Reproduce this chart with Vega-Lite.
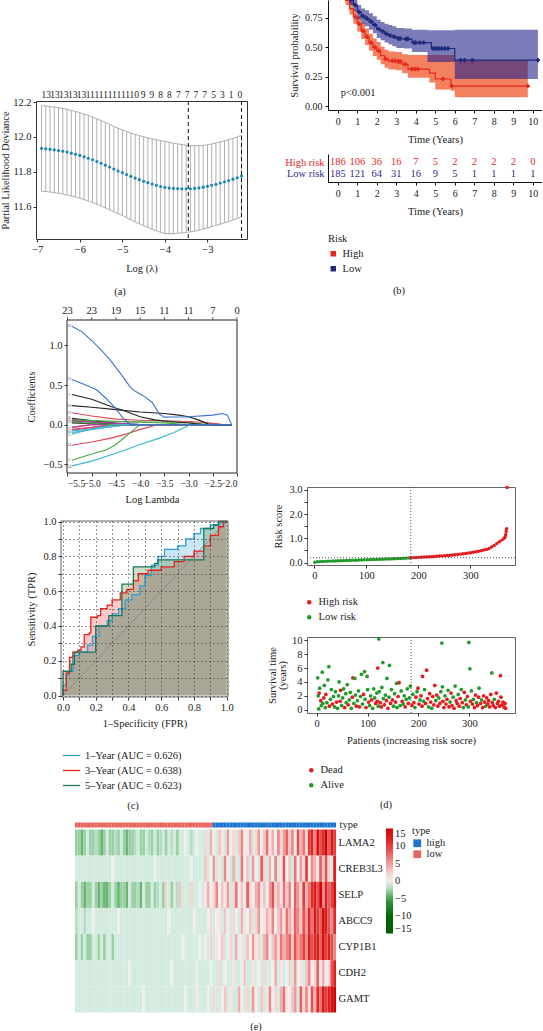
{
"$schema":"https://vega.github.io/schema/vega-lite/v6.json",
"padding":0,"background":"white","spacing":7.5,
"resolve":{"scale":{"color":"independent","stroke":"independent","fill":"independent"}},
"datasets":{
"cv":[{"loglam":-6.9,"mean":11.934,"lo":11.689,"hi":12.179},{"loglam":-6.8,"mean":11.932,"lo":11.687,"hi":12.177},{"loglam":-6.7,"mean":11.929,"lo":11.684,"hi":12.174},{"loglam":-6.6,"mean":11.926,"lo":11.681,"hi":12.171},{"loglam":-6.5,"mean":11.922,"lo":11.677,"hi":12.167},{"loglam":-6.4,"mean":11.918,"lo":11.673,"hi":12.163},{"loglam":-6.3,"mean":11.913,"lo":11.668,"hi":12.158},{"loglam":-6.2,"mean":11.907,"lo":11.662,"hi":12.152},{"loglam":-6.1,"mean":11.901,"lo":11.656,"hi":12.146},{"loglam":-6.0,"mean":11.894,"lo":11.649,"hi":12.139},{"loglam":-5.9,"mean":11.886,"lo":11.641,"hi":12.131},{"loglam":-5.8,"mean":11.878,"lo":11.633,"hi":12.123},{"loglam":-5.7,"mean":11.869,"lo":11.624,"hi":12.114},{"loglam":-5.6,"mean":11.859,"lo":11.614,"hi":12.104},{"loglam":-5.5,"mean":11.849,"lo":11.604,"hi":12.094},{"loglam":-5.4,"mean":11.838,"lo":11.593,"hi":12.083},{"loglam":-5.3,"mean":11.827,"lo":11.582,"hi":12.072},{"loglam":-5.2,"mean":11.816,"lo":11.571,"hi":12.061},{"loglam":-5.1,"mean":11.805,"lo":11.56,"hi":12.05},{"loglam":-5.0,"mean":11.795,"lo":11.55,"hi":12.04},{"loglam":-4.9,"mean":11.784,"lo":11.537,"hi":12.031},{"loglam":-4.8,"mean":11.774,"lo":11.525,"hi":12.023},{"loglam":-4.7,"mean":11.764,"lo":11.513,"hi":12.015},{"loglam":-4.6,"mean":11.755,"lo":11.502,"hi":12.008},{"loglam":-4.5,"mean":11.746,"lo":11.491,"hi":12.001},{"loglam":-4.4,"mean":11.738,"lo":11.481,"hi":11.995},{"loglam":-4.3,"mean":11.73,"lo":11.471,"hi":11.989},{"loglam":-4.2,"mean":11.723,"lo":11.462,"hi":11.984},{"loglam":-4.1,"mean":11.716,"lo":11.453,"hi":11.979},{"loglam":-4.0,"mean":11.711,"lo":11.446,"hi":11.976},{"loglam":-3.9,"mean":11.707,"lo":11.445,"hi":11.969},{"loglam":-3.8,"mean":11.705,"lo":11.446,"hi":11.964},{"loglam":-3.7,"mean":11.704,"lo":11.448,"hi":11.96},{"loglam":-3.6,"mean":11.703,"lo":11.45,"hi":11.956},{"loglam":-3.5,"mean":11.703,"lo":11.453,"hi":11.953},{"loglam":-3.4,"mean":11.703,"lo":11.456,"hi":11.95},{"loglam":-3.3,"mean":11.705,"lo":11.46,"hi":11.95},{"loglam":-3.2,"mean":11.708,"lo":11.465,"hi":11.951},{"loglam":-3.1,"mean":11.712,"lo":11.472,"hi":11.952},{"loglam":-3.0,"mean":11.717,"lo":11.479,"hi":11.955},{"loglam":-2.9,"mean":11.723,"lo":11.486,"hi":11.96},{"loglam":-2.8,"mean":11.729,"lo":11.493,"hi":11.965},{"loglam":-2.7,"mean":11.736,"lo":11.5,"hi":11.972},{"loglam":-2.6,"mean":11.743,"lo":11.508,"hi":11.978},{"loglam":-2.5,"mean":11.75,"lo":11.515,"hi":11.985},{"loglam":-2.4,"mean":11.758,"lo":11.524,"hi":11.992},{"loglam":-2.3,"mean":11.766,"lo":11.532,"hi":12.0},{"loglam":-2.2,"mean":11.776,"lo":11.542,"hi":12.01}],
"nz":[{"loglam":-6.79,"n":"13"},{"loglam":-6.583,"n":"13"},{"loglam":-6.376,"n":"13"},{"loglam":-6.169,"n":"13"},{"loglam":-5.962,"n":"13"},{"loglam":-5.755,"n":"11"},{"loglam":-5.548,"n":"11"},{"loglam":-5.341,"n":"11"},{"loglam":-5.134,"n":"11"},{"loglam":-4.927,"n":"11"},{"loglam":-4.72,"n":"10"},{"loglam":-4.513,"n":"9"},{"loglam":-4.306,"n":"9"},{"loglam":-4.099,"n":"8"},{"loglam":-3.892,"n":"8"},{"loglam":-3.685,"n":"7"},{"loglam":-3.478,"n":"7"},{"loglam":-3.271,"n":"7"},{"loglam":-3.064,"n":"7"},{"loglam":-2.857,"n":"5"},{"loglam":-2.65,"n":"3"},{"loglam":-2.443,"n":"1"},{"loglam":-2.236,"n":"0"}],
"ctop":[{"lam":-5.5,"n":"23"},{"lam":-5.0,"n":"23"},{"lam":-4.5,"n":"19"},{"lam":-4.0,"n":"15"},{"lam":-3.5,"n":"11"},{"lam":-3.0,"n":"11"},{"lam":-2.5,"n":"7"},{"lam":-2.0,"n":"0"}],
"coef":[
{"var":"2","lam":-5.41,"coef":0.07},{"var":"2","lam":-4.6,"coef":0},{"var":"2","lam":-2.11,"coef":0},
{"var":"4","lam":-5.41,"coef":0.05},{"var":"4","lam":-4.0,"coef":0},{"var":"4","lam":-2.11,"coef":0},
{"var":"6","lam":-5.41,"coef":-0.07},{"var":"6","lam":-4.6,"coef":0},{"var":"6","lam":-2.11,"coef":0},
{"var":"7","lam":-5.41,"coef":0.04},{"var":"7","lam":-3.0,"coef":0.03},{"var":"7","lam":-2.6,"coef":0},{"var":"7","lam":-2.11,"coef":0},
{"var":"8","lam":-5.41,"coef":0.08},{"var":"8","lam":-4.3,"coef":0},{"var":"8","lam":-2.11,"coef":0},
{"var":"9","lam":-5.41,"coef":0.03},{"var":"9","lam":-4.8,"coef":0},{"var":"9","lam":-2.11,"coef":0},
{"var":"10","lam":-5.41,"coef":-0.1},{"var":"10","lam":-4.3,"coef":0},{"var":"10","lam":-2.11,"coef":0},
{"var":"11","lam":-5.41,"coef":-0.04},{"var":"11","lam":-5.0,"coef":0},{"var":"11","lam":-2.11,"coef":0},
{"var":"12","lam":-5.41,"coef":0.06},{"var":"12","lam":-3.5,"coef":0.02},{"var":"12","lam":-3.0,"coef":0},{"var":"12","lam":-2.11,"coef":0},
{"var":"13","lam":-5.41,"coef":-0.03},{"var":"13","lam":-5.0,"coef":0},{"var":"13","lam":-2.11,"coef":0},
{"var":"15","lam":-5.41,"coef":0.02},{"var":"15","lam":-4.0,"coef":0},{"var":"15","lam":-2.11,"coef":0},
{"var":"17","lam":-5.41,"coef":-0.08},{"var":"17","lam":-4.5,"coef":-0.02},{"var":"17","lam":-4.2,"coef":0},{"var":"17","lam":-2.11,"coef":0},
{"var":"18","lam":-5.41,"coef":0.03},{"var":"18","lam":-4.5,"coef":0},{"var":"18","lam":-2.11,"coef":0},
{"var":"19","lam":-5.41,"coef":0.05},{"var":"19","lam":-4.0,"coef":0},{"var":"19","lam":-2.11,"coef":0},
{"var":"21","lam":-5.41,"coef":-0.06},{"var":"21","lam":-4.4,"coef":0},{"var":"21","lam":-2.11,"coef":0},
{"var":"5","lam":-5.41,"coef":-0.12},{"var":"5","lam":-5.1,"coef":-0.07},{"var":"5","lam":-4.8,"coef":-0.03},{"var":"5","lam":-4.5,"coef":0},{"var":"5","lam":-2.11,"coef":0},
{"var":"22","lam":-5.41,"coef":0.15},{"var":"22","lam":-5.0,"coef":0.11},{"var":"22","lam":-4.5,"coef":0.07},{"var":"22","lam":-4.0,"coef":0.055},{"var":"22","lam":-3.5,"coef":0.05},{"var":"22","lam":-3.0,"coef":0.04},{"var":"22","lam":-2.7,"coef":0.03},{"var":"22","lam":-2.4,"coef":0.01},{"var":"22","lam":-2.3,"coef":0},{"var":"22","lam":-2.11,"coef":0},
{"var":"14","lam":-5.41,"coef":-0.26},{"var":"14","lam":-5.0,"coef":-0.22},{"var":"14","lam":-4.6,"coef":-0.17},{"var":"14","lam":-4.3,"coef":-0.12},{"var":"14","lam":-4.0,"coef":-0.06},{"var":"14","lam":-3.7,"coef":-0.01},{"var":"14","lam":-3.6,"coef":0},{"var":"14","lam":-2.11,"coef":0},
{"var":"3","lam":-5.41,"coef":-0.45},{"var":"3","lam":-5.0,"coef":-0.37},{"var":"3","lam":-4.7,"coef":-0.32},{"var":"3","lam":-4.5,"coef":-0.25},{"var":"3","lam":-4.3,"coef":-0.15},{"var":"3","lam":-4.1,"coef":-0.05},{"var":"3","lam":-4.0,"coef":0},{"var":"3","lam":-2.11,"coef":0},
{"var":"24","lam":-5.41,"coef":-0.52},{"var":"24","lam":-5.0,"coef":-0.46},{"var":"24","lam":-4.5,"coef":-0.36},{"var":"24","lam":-4.0,"coef":-0.25},{"var":"24","lam":-3.6,"coef":-0.17},{"var":"24","lam":-3.3,"coef":-0.1},{"var":"24","lam":-3.1,"coef":-0.04},{"var":"24","lam":-2.95,"coef":0},{"var":"24","lam":-2.11,"coef":0},
{"var":"1","lam":-5.41,"coef":0.38},{"var":"1","lam":-5.0,"coef":0.32},{"var":"1","lam":-4.6,"coef":0.23},{"var":"1","lam":-4.3,"coef":0.17},{"var":"1","lam":-4.0,"coef":0.1},{"var":"1","lam":-3.7,"coef":0.06},{"var":"1","lam":-3.4,"coef":0.04},{"var":"1","lam":-3.0,"coef":0.02},{"var":"1","lam":-2.7,"coef":0},{"var":"1","lam":-2.11,"coef":0},
{"var":"20","lam":-5.41,"coef":0.24},{"var":"20","lam":-5.0,"coef":0.22},{"var":"20","lam":-4.5,"coef":0.19},{"var":"20","lam":-4.0,"coef":0.16},{"var":"20","lam":-3.5,"coef":0.14},{"var":"20","lam":-3.2,"coef":0.12},{"var":"20","lam":-3.0,"coef":0.1},{"var":"20","lam":-2.8,"coef":0.06},{"var":"20","lam":-2.6,"coef":0.01},{"var":"20","lam":-2.5,"coef":0},{"var":"20","lam":-2.11,"coef":0},
{"var":"23","lam":-5.41,"coef":0.57},{"var":"23","lam":-5.2,"coef":0.52},{"var":"23","lam":-5.0,"coef":0.47},{"var":"23","lam":-4.9,"coef":0.44},{"var":"23","lam":-4.7,"coef":0.33},{"var":"23","lam":-4.5,"coef":0.2},{"var":"23","lam":-4.35,"coef":0.08},{"var":"23","lam":-4.2,"coef":0},{"var":"23","lam":-2.11,"coef":0},
{"var":"16","lam":-5.41,"coef":1.24},{"var":"16","lam":-5.2,"coef":1.17},{"var":"16","lam":-5.0,"coef":1.06},{"var":"16","lam":-4.8,"coef":0.94},{"var":"16","lam":-4.6,"coef":0.8},{"var":"16","lam":-4.4,"coef":0.64},{"var":"16","lam":-4.2,"coef":0.47},{"var":"16","lam":-4.1,"coef":0.42},{"var":"16","lam":-3.9,"coef":0.35},{"var":"16","lam":-3.75,"coef":0.28},{"var":"16","lam":-3.6,"coef":0.13},{"var":"16","lam":-3.5,"coef":0.095},{"var":"16","lam":-3.0,"coef":0.1},{"var":"16","lam":-2.5,"coef":0.12},{"var":"16","lam":-2.3,"coef":0.14},{"var":"16","lam":-2.2,"coef":0.12},{"var":"16","lam":-2.11,"coef":0}],
"coeflab":[{"var":"16","coef":1.24},{"var":"23","coef":0.57},{"var":"1","coef":0.38},{"var":"20","coef":0.24},{"var":"22","coef":0.15},{"var":"8","coef":0.08},{"var":"2","coef":0.055},{"var":"12","coef":0.03},{"var":"6","coef":-0.05},{"var":"10","coef":-0.09},{"var":"5","coef":-0.13},{"var":"14","coef":-0.26},{"var":"3","coef":-0.45},{"var":"24","coef":-0.53}],
"roc":[
{"curve":"1–Year (AUC = 0.626)","fpr":0,"tpr":0},{"curve":"1–Year (AUC = 0.626)","fpr":0,"tpr":0.06},{"curve":"1–Year (AUC = 0.626)","fpr":0.02,"tpr":0.12},{"curve":"1–Year (AUC = 0.626)","fpr":0.04,"tpr":0.14},{"curve":"1–Year (AUC = 0.626)","fpr":0.06,"tpr":0.23},{"curve":"1–Year (AUC = 0.626)","fpr":0.1,"tpr":0.25},{"curve":"1–Year (AUC = 0.626)","fpr":0.15,"tpr":0.29},{"curve":"1–Year (AUC = 0.626)","fpr":0.18,"tpr":0.34},{"curve":"1–Year (AUC = 0.626)","fpr":0.22,"tpr":0.4},{"curve":"1–Year (AUC = 0.626)","fpr":0.27,"tpr":0.43},{"curve":"1–Year (AUC = 0.626)","fpr":0.3,"tpr":0.47},{"curve":"1–Year (AUC = 0.626)","fpr":0.34,"tpr":0.5},{"curve":"1–Year (AUC = 0.626)","fpr":0.38,"tpr":0.55},{"curve":"1–Year (AUC = 0.626)","fpr":0.42,"tpr":0.58},{"curve":"1–Year (AUC = 0.626)","fpr":0.47,"tpr":0.63},{"curve":"1–Year (AUC = 0.626)","fpr":0.5,"tpr":0.69},{"curve":"1–Year (AUC = 0.626)","fpr":0.54,"tpr":0.75},{"curve":"1–Year (AUC = 0.626)","fpr":0.58,"tpr":0.8},{"curve":"1–Year (AUC = 0.626)","fpr":0.62,"tpr":0.84},{"curve":"1–Year (AUC = 0.626)","fpr":0.7,"tpr":0.86},{"curve":"1–Year (AUC = 0.626)","fpr":0.75,"tpr":0.9},{"curve":"1–Year (AUC = 0.626)","fpr":0.8,"tpr":0.93},{"curve":"1–Year (AUC = 0.626)","fpr":0.84,"tpr":0.96},{"curve":"1–Year (AUC = 0.626)","fpr":0.9,"tpr":0.98},{"curve":"1–Year (AUC = 0.626)","fpr":0.96,"tpr":1},{"curve":"1–Year (AUC = 0.626)","fpr":1,"tpr":1},
{"curve":"3–Year (AUC = 0.638)","fpr":0,"tpr":0},{"curve":"3–Year (AUC = 0.638)","fpr":0,"tpr":0.03},{"curve":"3–Year (AUC = 0.638)","fpr":0.02,"tpr":0.13},{"curve":"3–Year (AUC = 0.638)","fpr":0.04,"tpr":0.22},{"curve":"3–Year (AUC = 0.638)","fpr":0.06,"tpr":0.25},{"curve":"3–Year (AUC = 0.638)","fpr":0.09,"tpr":0.26},{"curve":"3–Year (AUC = 0.638)","fpr":0.11,"tpr":0.28},{"curve":"3–Year (AUC = 0.638)","fpr":0.13,"tpr":0.35},{"curve":"3–Year (AUC = 0.638)","fpr":0.16,"tpr":0.36},{"curve":"3–Year (AUC = 0.638)","fpr":0.17,"tpr":0.45},{"curve":"3–Year (AUC = 0.638)","fpr":0.21,"tpr":0.46},{"curve":"3–Year (AUC = 0.638)","fpr":0.23,"tpr":0.5},{"curve":"3–Year (AUC = 0.638)","fpr":0.27,"tpr":0.52},{"curve":"3–Year (AUC = 0.638)","fpr":0.3,"tpr":0.55},{"curve":"3–Year (AUC = 0.638)","fpr":0.35,"tpr":0.59},{"curve":"3–Year (AUC = 0.638)","fpr":0.39,"tpr":0.61},{"curve":"3–Year (AUC = 0.638)","fpr":0.43,"tpr":0.66},{"curve":"3–Year (AUC = 0.638)","fpr":0.46,"tpr":0.7},{"curve":"3–Year (AUC = 0.638)","fpr":0.52,"tpr":0.72},{"curve":"3–Year (AUC = 0.638)","fpr":0.6,"tpr":0.74},{"curve":"3–Year (AUC = 0.638)","fpr":0.68,"tpr":0.77},{"curve":"3–Year (AUC = 0.638)","fpr":0.74,"tpr":0.8},{"curve":"3–Year (AUC = 0.638)","fpr":0.8,"tpr":0.83},{"curve":"3–Year (AUC = 0.638)","fpr":0.86,"tpr":0.86},{"curve":"3–Year (AUC = 0.638)","fpr":0.9,"tpr":0.92},{"curve":"3–Year (AUC = 0.638)","fpr":0.95,"tpr":0.97},{"curve":"3–Year (AUC = 0.638)","fpr":0.98,"tpr":1},{"curve":"3–Year (AUC = 0.638)","fpr":1,"tpr":1},
{"curve":"5–Year (AUC = 0.623)","fpr":0,"tpr":0},{"curve":"5–Year (AUC = 0.623)","fpr":0,"tpr":0.14},{"curve":"5–Year (AUC = 0.623)","fpr":0.05,"tpr":0.18},{"curve":"5–Year (AUC = 0.623)","fpr":0.07,"tpr":0.25},{"curve":"5–Year (AUC = 0.623)","fpr":0.2,"tpr":0.4},{"curve":"5–Year (AUC = 0.623)","fpr":0.28,"tpr":0.46},{"curve":"5–Year (AUC = 0.623)","fpr":0.36,"tpr":0.64},{"curve":"5–Year (AUC = 0.623)","fpr":0.43,"tpr":0.74},{"curve":"5–Year (AUC = 0.623)","fpr":0.56,"tpr":0.76},{"curve":"5–Year (AUC = 0.623)","fpr":0.58,"tpr":0.78},{"curve":"5–Year (AUC = 0.623)","fpr":0.86,"tpr":0.96},{"curve":"5–Year (AUC = 0.623)","fpr":0.92,"tpr":0.98},{"curve":"5–Year (AUC = 0.623)","fpr":0.95,"tpr":1},{"curve":"5–Year (AUC = 0.623)","fpr":1,"tpr":1}],
"km":[
{"risk":"High","t":0,"s":1,"lo":1,"hi":1},{"risk":"High","t":0.2,"s":0.96,"lo":0.93,"hi":0.99},{"risk":"High","t":0.4,"s":0.9,"lo":0.86,"hi":0.94},{"risk":"High","t":0.6,"s":0.83,"lo":0.78,"hi":0.88},{"risk":"High","t":0.8,"s":0.76,"lo":0.7,"hi":0.82},{"risk":"High","t":1.0,"s":0.7,"lo":0.635,"hi":0.765},{"risk":"High","t":1.2,"s":0.64,"lo":0.57,"hi":0.71},{"risk":"High","t":1.4,"s":0.59,"lo":0.52,"hi":0.66},{"risk":"High","t":1.6,"s":0.54,"lo":0.47,"hi":0.615},{"risk":"High","t":1.8,"s":0.5,"lo":0.425,"hi":0.575},{"risk":"High","t":2.0,"s":0.47,"lo":0.395,"hi":0.545},{"risk":"High","t":2.2,"s":0.43,"lo":0.355,"hi":0.505},{"risk":"High","t":2.4,"s":0.4,"lo":0.325,"hi":0.48},{"risk":"High","t":2.6,"s":0.385,"lo":0.31,"hi":0.465},{"risk":"High","t":3.0,"s":0.38,"lo":0.305,"hi":0.46},{"risk":"High","t":3.3,"s":0.355,"lo":0.28,"hi":0.44},{"risk":"High","t":3.6,"s":0.315,"lo":0.24,"hi":0.435},{"risk":"High","t":4.7,"s":0.28,"lo":0.2,"hi":0.435},{"risk":"High","t":5.0,"s":0.23,"lo":0.14,"hi":0.435},{"risk":"High","t":5.8,"s":0.17,"lo":0.13,"hi":0.435},{"risk":"High","t":6.0,"s":0.17,"lo":0.075,"hi":0.39},{"risk":"High","t":9.74,"s":0.17,"lo":0.075,"hi":0.39},
{"risk":"Low","t":0,"s":1,"lo":1,"hi":1},{"risk":"Low","t":0.2,"s":0.975,"lo":0.955,"hi":0.995},{"risk":"Low","t":0.4,"s":0.94,"lo":0.91,"hi":0.97},{"risk":"Low","t":0.6,"s":0.9,"lo":0.86,"hi":0.94},{"risk":"Low","t":0.8,"s":0.86,"lo":0.81,"hi":0.91},{"risk":"Low","t":1.0,"s":0.8,"lo":0.74,"hi":0.86},{"risk":"Low","t":1.2,"s":0.765,"lo":0.7,"hi":0.83},{"risk":"Low","t":1.4,"s":0.745,"lo":0.68,"hi":0.815},{"risk":"Low","t":1.6,"s":0.72,"lo":0.65,"hi":0.79},{"risk":"Low","t":1.8,"s":0.69,"lo":0.62,"hi":0.765},{"risk":"Low","t":2.0,"s":0.655,"lo":0.58,"hi":0.735},{"risk":"Low","t":2.2,"s":0.635,"lo":0.56,"hi":0.715},{"risk":"Low","t":2.4,"s":0.615,"lo":0.54,"hi":0.7},{"risk":"Low","t":2.6,"s":0.6,"lo":0.525,"hi":0.69},{"risk":"Low","t":2.8,"s":0.59,"lo":0.51,"hi":0.68},{"risk":"Low","t":3.0,"s":0.575,"lo":0.495,"hi":0.665},{"risk":"Low","t":3.4,"s":0.57,"lo":0.49,"hi":0.66},{"risk":"Low","t":3.8,"s":0.54,"lo":0.46,"hi":0.65},{"risk":"Low","t":4.6,"s":0.54,"lo":0.375,"hi":0.645},{"risk":"Low","t":4.8,"s":0.49,"lo":0.375,"hi":0.645},{"risk":"Low","t":6.0,"s":0.39,"lo":0.23,"hi":0.65},{"risk":"Low","t":10.26,"s":0.39,"lo":0.23,"hi":0.65}],
"cens":[
{"risk":"Low","t":0.3,"s":0.975},{"risk":"Low","t":0.5,"s":0.94},{"risk":"Low","t":0.7,"s":0.9},{"risk":"Low","t":0.9,"s":0.86},{"risk":"Low","t":1.1,"s":0.8},{"risk":"Low","t":1.3,"s":0.765},{"risk":"Low","t":1.5,"s":0.745},{"risk":"Low","t":1.7,"s":0.72},{"risk":"Low","t":1.9,"s":0.69},{"risk":"Low","t":2.1,"s":0.655},{"risk":"Low","t":2.3,"s":0.635},{"risk":"Low","t":2.5,"s":0.615},{"risk":"Low","t":2.7,"s":0.6},{"risk":"Low","t":2.9,"s":0.59},{"risk":"Low","t":3.1,"s":0.575},{"risk":"Low","t":3.2,"s":0.575},{"risk":"Low","t":3.5,"s":0.57},{"risk":"Low","t":3.6,"s":0.57},{"risk":"Low","t":3.9,"s":0.54},{"risk":"Low","t":4.0,"s":0.54},{"risk":"Low","t":4.2,"s":0.54},{"risk":"Low","t":4.4,"s":0.54},{"risk":"Low","t":4.9,"s":0.49},{"risk":"Low","t":5.05,"s":0.49},{"risk":"Low","t":5.2,"s":0.49},{"risk":"Low","t":5.35,"s":0.49},{"risk":"Low","t":5.5,"s":0.49},{"risk":"Low","t":5.65,"s":0.49},{"risk":"Low","t":6.3,"s":0.39},{"risk":"Low","t":6.5,"s":0.39},{"risk":"Low","t":6.9,"s":0.39},{"risk":"Low","t":10.26,"s":0.39},
{"risk":"High","t":0.9,"s":0.76},{"risk":"High","t":1.1,"s":0.7},{"risk":"High","t":1.3,"s":0.64},{"risk":"High","t":1.5,"s":0.59},{"risk":"High","t":1.7,"s":0.54},{"risk":"High","t":1.9,"s":0.5},{"risk":"High","t":2.1,"s":0.47},{"risk":"High","t":2.45,"s":0.4},{"risk":"High","t":2.8,"s":0.385},{"risk":"High","t":2.95,"s":0.385},{"risk":"High","t":3.1,"s":0.38},{"risk":"High","t":3.2,"s":0.38},{"risk":"High","t":3.45,"s":0.355},{"risk":"High","t":3.8,"s":0.315},{"risk":"High","t":3.95,"s":0.315},{"risk":"High","t":4.1,"s":0.315},{"risk":"High","t":5.4,"s":0.23},{"risk":"High","t":5.85,"s":0.17},{"risk":"High","t":9.74,"s":0.17}],
"risktab":[{"risk":"High risk","t":0,"n":"186"},{"risk":"High risk","t":1,"n":"106"},{"risk":"High risk","t":2,"n":"36"},{"risk":"High risk","t":3,"n":"16"},{"risk":"High risk","t":4,"n":"7"},{"risk":"High risk","t":5,"n":"5"},{"risk":"High risk","t":6,"n":"2"},{"risk":"High risk","t":7,"n":"2"},{"risk":"High risk","t":8,"n":"2"},{"risk":"High risk","t":9,"n":"2"},{"risk":"High risk","t":10,"n":"0"},{"risk":"Low risk","t":0,"n":"185"},{"risk":"Low risk","t":1,"n":"121"},{"risk":"Low risk","t":2,"n":"64"},{"risk":"Low risk","t":3,"n":"31"},{"risk":"Low risk","t":4,"n":"16"},{"risk":"Low risk","t":5,"n":"9"},{"risk":"Low risk","t":6,"n":"5"},{"risk":"Low risk","t":7,"n":"1"},{"risk":"Low risk","t":8,"n":"1"},{"risk":"Low risk","t":9,"n":"1"},{"risk":"Low risk","t":10,"n":"1"}],
"riskscore":[{"id":1,"score":0.01,"group":"Low risk"},{"id":6,"score":0.03,"group":"Low risk"},{"id":11,"score":0.04,"group":"Low risk"},{"id":16,"score":0.045,"group":"Low risk"},{"id":21,"score":0.05,"group":"Low risk"},{"id":26,"score":0.055,"group":"Low risk"},{"id":31,"score":0.06,"group":"Low risk"},{"id":36,"score":0.064,"group":"Low risk"},{"id":41,"score":0.068,"group":"Low risk"},{"id":46,"score":0.072,"group":"Low risk"},{"id":51,"score":0.076,"group":"Low risk"},{"id":56,"score":0.08,"group":"Low risk"},{"id":61,"score":0.084,"group":"Low risk"},{"id":66,"score":0.088,"group":"Low risk"},{"id":71,"score":0.092,"group":"Low risk"},{"id":76,"score":0.096,"group":"Low risk"},{"id":81,"score":0.1,"group":"Low risk"},{"id":86,"score":0.104,"group":"Low risk"},{"id":91,"score":0.108,"group":"Low risk"},{"id":96,"score":0.112,"group":"Low risk"},{"id":101,"score":0.116,"group":"Low risk"},{"id":106,"score":0.12,"group":"Low risk"},{"id":111,"score":0.124,"group":"Low risk"},{"id":116,"score":0.128,"group":"Low risk"},{"id":121,"score":0.132,"group":"Low risk"},{"id":126,"score":0.136,"group":"Low risk"},{"id":131,"score":0.14,"group":"Low risk"},{"id":136,"score":0.144,"group":"Low risk"},{"id":141,"score":0.148,"group":"Low risk"},{"id":146,"score":0.152,"group":"Low risk"},{"id":151,"score":0.156,"group":"Low risk"},{"id":156,"score":0.16,"group":"Low risk"},{"id":161,"score":0.165,"group":"Low risk"},{"id":166,"score":0.17,"group":"Low risk"},{"id":171,"score":0.176,"group":"Low risk"},{"id":176,"score":0.182,"group":"Low risk"},{"id":181,"score":0.19,"group":"Low risk"},{"id":185,"score":0.197,"group":"Low risk"},
{"id":186,"score":0.2,"group":"High risk"},{"id":191,"score":0.205,"group":"High risk"},{"id":196,"score":0.21,"group":"High risk"},{"id":201,"score":0.215,"group":"High risk"},{"id":206,"score":0.22,"group":"High risk"},{"id":211,"score":0.226,"group":"High risk"},{"id":216,"score":0.232,"group":"High risk"},{"id":221,"score":0.238,"group":"High risk"},{"id":226,"score":0.245,"group":"High risk"},{"id":231,"score":0.252,"group":"High risk"},{"id":236,"score":0.26,"group":"High risk"},{"id":241,"score":0.268,"group":"High risk"},{"id":246,"score":0.276,"group":"High risk"},{"id":251,"score":0.285,"group":"High risk"},{"id":256,"score":0.294,"group":"High risk"},{"id":261,"score":0.303,"group":"High risk"},{"id":266,"score":0.313,"group":"High risk"},{"id":271,"score":0.324,"group":"High risk"},{"id":276,"score":0.336,"group":"High risk"},{"id":281,"score":0.349,"group":"High risk"},{"id":286,"score":0.363,"group":"High risk"},{"id":291,"score":0.378,"group":"High risk"},{"id":296,"score":0.394,"group":"High risk"},{"id":301,"score":0.41,"group":"High risk"},{"id":306,"score":0.43,"group":"High risk"},{"id":311,"score":0.45,"group":"High risk"},{"id":316,"score":0.47,"group":"High risk"},{"id":321,"score":0.49,"group":"High risk"},{"id":326,"score":0.515,"group":"High risk"},{"id":331,"score":0.545,"group":"High risk"},{"id":336,"score":0.585,"group":"High risk"},{"id":341,"score":0.64,"group":"High risk"},{"id":346,"score":0.71,"group":"High risk"},{"id":351,"score":0.79,"group":"High risk"},{"id":356,"score":0.86,"group":"High risk"},{"id":361,"score":0.93,"group":"High risk"},{"id":365,"score":1.0,"group":"High risk"},{"id":367,"score":1.05,"group":"High risk"},{"id":368,"score":1.15,"group":"High risk"},{"id":369,"score":1.28,"group":"High risk"},{"id":370,"score":1.4,"group":"High risk"},{"id":371,"score":3.1,"group":"High risk"}],
"surv":[{"id":2,"years":4.6,"status":"Alive"},{"id":3,"years":2.0,"status":"Alive"},{"id":4,"years":0.1,"status":"Alive"},{"id":5,"years":2.4,"status":"Dead"},{"id":6,"years":3.1,"status":"Alive"},{"id":8,"years":1.3,"status":"Dead"},{"id":9,"years":0.6,"status":"Alive"},{"id":11,"years":5.4,"status":"Alive"},{"id":12,"years":0.9,"status":"Alive"},{"id":14,"years":1.7,"status":"Dead"},{"id":15,"years":3.5,"status":"Alive"},{"id":17,"years":0.3,"status":"Alive"},{"id":18,"years":2.2,"status":"Dead"},{"id":20,"years":1.0,"status":"Alive"},{"id":22,"years":4.3,"status":"Alive"},{"id":24,"years":6.2,"status":"Alive"},{"id":25,"years":0.5,"status":"Dead"},{"id":27,"years":1.5,"status":"Alive"},{"id":29,"years":2.9,"status":"Alive"},{"id":31,"years":0.8,"status":"Dead"},{"id":33,"years":1.9,"status":"Alive"},{"id":35,"years":0.4,"status":"Alive"},{"id":37,"years":2.6,"status":"Alive"},{"id":39,"years":1.1,"status":"Dead"},
{"id":41,"years":0.2,"status":"Alive"},{"id":43,"years":2.0,"status":"Alive"},{"id":44,"years":4.0,"status":"Alive"},{"id":46,"years":1.2,"status":"Dead"},{"id":47,"years":2.8,"status":"Dead"},{"id":49,"years":0.6,"status":"Alive"},{"id":51,"years":1.7,"status":"Alive"},{"id":53,"years":3.0,"status":"Alive"},{"id":55,"years":0.3,"status":"Dead"},{"id":57,"years":2.3,"status":"Alive"},{"id":58,"years":1.0,"status":"Alive"},{"id":60,"years":3.6,"status":"Alive"},{"id":62,"years":0.7,"status":"Dead"},{"id":64,"years":1.4,"status":"Alive"},{"id":66,"years":2.5,"status":"Alive"},{"id":68,"years":0.2,"status":"Alive"},{"id":70,"years":1.8,"status":"Dead"},{"id":71,"years":4.6,"status":"Dead"},{"id":73,"years":0.9,"status":"Alive"},{"id":75,"years":4.5,"status":"Alive"},{"id":76,"years":2.1,"status":"Alive"},{"id":78,"years":0.5,"status":"Dead"},{"id":80,"years":1.3,"status":"Alive"},
{"id":82,"years":2.7,"status":"Alive"},{"id":84,"years":0.4,"status":"Dead"},{"id":86,"years":1.9,"status":"Alive"},{"id":88,"years":5.1,"status":"Alive"},{"id":90,"years":0.8,"status":"Alive"},{"id":92,"years":2.2,"status":"Dead"},{"id":94,"years":5.5,"status":"Alive"},{"id":95,"years":1.5,"status":"Alive"},{"id":97,"years":0.3,"status":"Dead"},{"id":99,"years":4.8,"status":"Alive"},{"id":100,"years":2.9,"status":"Alive"},{"id":102,"years":1.1,"status":"Dead"},{"id":104,"years":0.6,"status":"Alive"},{"id":106,"years":2.0,"status":"Alive"},{"id":108,"years":1.4,"status":"Dead"},{"id":110,"years":0.2,"status":"Alive"},{"id":112,"years":3.0,"status":"Alive"},{"id":114,"years":1.7,"status":"Alive"},{"id":116,"years":0.9,"status":"Dead"},{"id":118,"years":2.4,"status":"Alive"},{"id":119,"years":1.2,"status":"Dead"},{"id":120,"years":6.0,"status":"Dead"},{"id":121,"years":0.5,"status":"Alive"},
{"id":122,"years":10.2,"status":"Alive"},{"id":123,"years":2.6,"status":"Alive"},{"id":125,"years":1.0,"status":"Dead"},{"id":127,"years":0.4,"status":"Dead"},{"id":128,"years":3.2,"status":"Alive"},{"id":130,"years":6.8,"status":"Alive"},{"id":131,"years":1.6,"status":"Alive"},{"id":133,"years":0.7,"status":"Dead"},{"id":135,"years":2.1,"status":"Alive"},{"id":137,"years":1.3,"status":"Dead"},{"id":138,"years":4.5,"status":"Alive"},{"id":140,"years":0.2,"status":"Dead"},{"id":142,"years":1.8,"status":"Alive"},{"id":143,"years":6.4,"status":"Alive"},{"id":145,"years":0.9,"status":"Dead"},{"id":147,"years":2.9,"status":"Alive"},{"id":149,"years":1.4,"status":"Dead"},{"id":151,"years":0.5,"status":"Alive"},{"id":153,"years":2.3,"status":"Alive"},{"id":155,"years":1.1,"status":"Dead"},{"id":157,"years":3.8,"status":"Alive"},{"id":158,"years":0.3,"status":"Alive"},{"id":160,"years":1.9,"status":"Dead"},{"id":162,"years":3.9,"status":"Dead"},{"id":164,"years":0.6,"status":"Alive"},{"id":166,"years":2.7,"status":"Alive"},{"id":168,"years":1.2,"status":"Dead"},{"id":170,"years":0.8,"status":"Alive"},{"id":172,"years":2.0,"status":"Alive"},{"id":174,"years":0.4,"status":"Dead"},{"id":176,"years":1.5,"status":"Alive"},{"id":178,"years":3.0,"status":"Alive"},{"id":180,"years":0.9,"status":"Dead"},{"id":182,"years":1.7,"status":"Alive"},{"id":184,"years":3.4,"status":"Alive"},
{"id":187,"years":0.6,"status":"Dead"},{"id":189,"years":2.2,"status":"Alive"},{"id":191,"years":1.0,"status":"Dead"},{"id":193,"years":0.3,"status":"Alive"},{"id":195,"years":1.8,"status":"Dead"},{"id":197,"years":2.6,"status":"Alive"},{"id":199,"years":3.1,"status":"Dead"},{"id":201,"years":0.8,"status":"Dead"},{"id":203,"years":1.4,"status":"Alive"},{"id":205,"years":2.0,"status":"Dead"},{"id":207,"years":0.5,"status":"Dead"},{"id":208,"years":4.8,"status":"Dead"},{"id":210,"years":1.2,"status":"Alive"},{"id":212,"years":2.9,"status":"Alive"},{"id":214,"years":0.9,"status":"Dead"},{"id":216,"years":5.7,"status":"Dead"},{"id":218,"years":1.6,"status":"Dead"},{"id":220,"years":0.4,"status":"Alive"},{"id":222,"years":2.3,"status":"Dead"},{"id":224,"years":1.1,"status":"Dead"},{"id":226,"years":0.2,"status":"Alive"},{"id":228,"years":1.9,"status":"Dead"},{"id":230,"years":0.7,"status":"Dead"},{"id":232,"years":3.5,"status":"Dead"},{"id":234,"years":1.3,"status":"Alive"},{"id":236,"years":2.1,"status":"Dead"},{"id":238,"years":0.5,"status":"Dead"},{"id":240,"years":1.7,"status":"Alive"},{"id":242,"years":0.9,"status":"Dead"},{"id":244,"years":2.6,"status":"Alive"},{"id":246,"years":9.6,"status":"Alive"},{"id":247,"years":3.3,"status":"Alive"},{"id":248,"years":1.2,"status":"Dead"},{"id":250,"years":0.3,"status":"Dead"},
{"id":252,"years":2.0,"status":"Alive"},{"id":254,"years":0.8,"status":"Dead"},{"id":256,"years":1.5,"status":"Dead"},{"id":258,"years":2.8,"status":"Alive"},{"id":260,"years":0.4,"status":"Dead"},{"id":262,"years":1.1,"status":"Alive"},{"id":264,"years":2.4,"status":"Dead"},{"id":266,"years":0.6,"status":"Dead"},{"id":268,"years":1.8,"status":"Alive"},{"id":270,"years":0.2,"status":"Dead"},{"id":272,"years":3.4,"status":"Alive"},{"id":274,"years":1.3,"status":"Dead"},{"id":276,"years":0.9,"status":"Dead"},{"id":278,"years":2.2,"status":"Alive"},{"id":280,"years":0.5,"status":"Dead"},{"id":282,"years":1.6,"status":"Dead"},{"id":284,"years":2.9,"status":"Alive"},{"id":286,"years":1.0,"status":"Dead"},{"id":288,"years":0.3,"status":"Alive"},{"id":290,"years":2.5,"status":"Dead"},{"id":292,"years":1.4,"status":"Alive"},{"id":294,"years":0.7,"status":"Dead"},{"id":296,"years":1.9,"status":"Dead"},{"id":298,"years":0.4,"status":"Alive"},{"id":299,"years":9.7,"status":"Alive"},{"id":301,"years":5.9,"status":"Alive"},{"id":302,"years":1.2,"status":"Dead"},{"id":304,"years":2.7,"status":"Alive"},{"id":306,"years":0.8,"status":"Dead"},{"id":308,"years":1.5,"status":"Alive"},{"id":310,"years":0.3,"status":"Dead"},{"id":312,"years":2.1,"status":"Dead"},{"id":314,"years":1.0,"status":"Alive"},{"id":316,"years":0.6,"status":"Dead"},{"id":318,"years":1.8,"status":"Dead"},{"id":319,"years":3.1,"status":"Alive"},
{"id":322,"years":0.9,"status":"Dead"},{"id":324,"years":1.4,"status":"Alive"},{"id":326,"years":0.3,"status":"Dead"},{"id":328,"years":2.0,"status":"Dead"},{"id":330,"years":1.1,"status":"Dead"},{"id":332,"years":0.5,"status":"Alive"},{"id":334,"years":1.7,"status":"Dead"},{"id":336,"years":0.8,"status":"Dead"},{"id":338,"years":1.3,"status":"Dead"},{"id":340,"years":0.4,"status":"Dead"},{"id":342,"years":2.2,"status":"Dead"},{"id":344,"years":5.3,"status":"Alive"},{"id":345,"years":1.0,"status":"Dead"},{"id":347,"years":0.6,"status":"Dead"},{"id":349,"years":1.5,"status":"Alive"},{"id":351,"years":0.3,"status":"Dead"},{"id":353,"years":2.4,"status":"Dead"},{"id":355,"years":0.9,"status":"Dead"},{"id":357,"years":1.2,"status":"Dead"},{"id":359,"years":0.5,"status":"Dead"},{"id":361,"years":4.9,"status":"Dead"},{"id":362,"years":1.8,"status":"Dead"},{"id":364,"years":0.7,"status":"Dead"},{"id":366,"years":1.1,"status":"Dead"},{"id":368,"years":0.4,"status":"Dead"},{"id":370,"years":0.9,"status":"Dead"},{"id":371,"years":0.2,"status":"Dead"}],
"heat":[
{"col":1,"type":"low","LAMA2":-3,"CREB3L3":-1,"SELP":-3,"ABCC9":-2,"CYP1B1":-3,"CDH2":-1,"GAMT":-1},
{"col":2,"type":"low","LAMA2":-3,"CREB3L3":-1,"SELP":-1,"ABCC9":-1,"CYP1B1":-1,"CDH2":-1,"GAMT":-1},
{"col":3,"type":"low","LAMA2":-4,"CREB3L3":-1,"SELP":-3,"ABCC9":-1,"CYP1B1":-3,"CDH2":-1,"GAMT":-1},
{"col":4,"type":"low","LAMA2":-3,"CREB3L3":-1,"SELP":-4,"ABCC9":-2,"CYP1B1":-1,"CDH2":-1,"GAMT":-1},
{"col":5,"type":"low","LAMA2":-1,"CREB3L3":-1,"SELP":-3,"ABCC9":-1,"CYP1B1":-3,"CDH2":-1,"GAMT":-1},
{"col":6,"type":"low","LAMA2":-3,"CREB3L3":-1,"SELP":-3,"ABCC9":-1,"CYP1B1":-3,"CDH2":-1,"GAMT":-1},
{"col":7,"type":"low","LAMA2":-3,"CREB3L3":-1,"SELP":-1,"ABCC9":0,"CYP1B1":-1,"CDH2":-1,"GAMT":-1},
{"col":8,"type":"low","LAMA2":-2,"CREB3L3":-1,"SELP":-3,"ABCC9":-1,"CYP1B1":-1,"CDH2":-1,"GAMT":-1},
{"col":9,"type":"low","LAMA2":-3,"CREB3L3":-1,"SELP":-4,"ABCC9":-1,"CYP1B1":-3,"CDH2":-1,"GAMT":-1},
{"col":10,"type":"low","LAMA2":-4,"CREB3L3":-1,"SELP":-3,"ABCC9":-1,"CYP1B1":-1,"CDH2":-1,"GAMT":-1},
{"col":11,"type":"low","LAMA2":-3,"CREB3L3":-1,"SELP":-4,"ABCC9":-1,"CYP1B1":-3,"CDH2":-1,"GAMT":-1},
{"col":12,"type":"low","LAMA2":-1,"CREB3L3":-1,"SELP":-4,"ABCC9":-1,"CYP1B1":-1,"CDH2":-1,"GAMT":-1},
{"col":13,"type":"low","LAMA2":-3,"CREB3L3":-1,"SELP":-3,"ABCC9":-1,"CYP1B1":-1,"CDH2":-1,"GAMT":-1},
{"col":14,"type":"low","LAMA2":-3,"CREB3L3":0,"SELP":-1,"ABCC9":-1,"CYP1B1":-3,"CDH2":-1,"GAMT":-1},
{"col":15,"type":"low","LAMA2":-2,"CREB3L3":-1,"SELP":-3,"ABCC9":-1,"CYP1B1":-1,"CDH2":-1,"GAMT":-1},
{"col":16,"type":"low","LAMA2":-3,"CREB3L3":-1,"SELP":-4,"ABCC9":0,"CYP1B1":-1,"CDH2":-1,"GAMT":-1},
{"col":17,"type":"low","LAMA2":-1,"CREB3L3":-1,"SELP":-3,"ABCC9":-1,"CYP1B1":-1,"CDH2":-1,"GAMT":-1},
{"col":18,"type":"low","LAMA2":-3,"CREB3L3":-1,"SELP":-3,"ABCC9":-1,"CYP1B1":-1,"CDH2":-1,"GAMT":-1},
{"col":19,"type":"low","LAMA2":-4,"CREB3L3":-1,"SELP":-4,"ABCC9":-1,"CYP1B1":-1,"CDH2":-1,"GAMT":-1},
{"col":20,"type":"low","LAMA2":-3,"CREB3L3":-1,"SELP":-1,"ABCC9":-1,"CYP1B1":-1,"CDH2":0,"GAMT":-1},
{"col":21,"type":"low","LAMA2":-3,"CREB3L3":-1,"SELP":-3,"ABCC9":-1,"CYP1B1":-1,"CDH2":-1,"GAMT":-1},
{"col":22,"type":"low","LAMA2":-2,"CREB3L3":-1,"SELP":-3,"ABCC9":-1,"CYP1B1":-1,"CDH2":-1,"GAMT":-1},
{"col":23,"type":"low","LAMA2":-1,"CREB3L3":-1,"SELP":-2,"ABCC9":-1,"CYP1B1":-1,"CDH2":-1,"GAMT":-1},
{"col":24,"type":"low","LAMA2":-3,"CREB3L3":-1,"SELP":-4,"ABCC9":-1,"CYP1B1":-1,"CDH2":-1,"GAMT":-1},
{"col":25,"type":"low","LAMA2":-3,"CREB3L3":-1,"SELP":-1,"ABCC9":-1,"CYP1B1":-1,"CDH2":-1,"GAMT":0},
{"col":26,"type":"low","LAMA2":-1,"CREB3L3":-1,"SELP":-3,"ABCC9":-1,"CYP1B1":-1,"CDH2":-1,"GAMT":-1},
{"col":27,"type":"low","LAMA2":-2,"CREB3L3":-1,"SELP":-3,"ABCC9":-1,"CYP1B1":-1,"CDH2":-1,"GAMT":-1},
{"col":28,"type":"low","LAMA2":-3,"CREB3L3":-1,"SELP":-1,"ABCC9":-1,"CYP1B1":-1,"CDH2":-1,"GAMT":-1},
{"col":29,"type":"low","LAMA2":-1,"CREB3L3":0,"SELP":-3,"ABCC9":-1,"CYP1B1":-1,"CDH2":-1,"GAMT":-1},
{"col":30,"type":"low","LAMA2":-3,"CREB3L3":-1,"SELP":-2,"ABCC9":-1,"CYP1B1":-1,"CDH2":-1,"GAMT":-1},
{"col":31,"type":"low","LAMA2":-2,"CREB3L3":-1,"SELP":-1,"ABCC9":-1,"CYP1B1":-1,"CDH2":-1,"GAMT":-1},
{"col":32,"type":"low","LAMA2":-1,"CREB3L3":-1,"SELP":-3,"ABCC9":-1,"CYP1B1":-1,"CDH2":-1,"GAMT":-1},
{"col":33,"type":"low","LAMA2":-3,"CREB3L3":-1,"SELP":2,"ABCC9":-1,"CYP1B1":-1,"CDH2":-1,"GAMT":-1},
{"col":34,"type":"low","LAMA2":-1,"CREB3L3":-1,"SELP":-1,"ABCC9":0,"CYP1B1":-1,"CDH2":-1,"GAMT":-1},
{"col":35,"type":"low","LAMA2":-2,"CREB3L3":-1,"SELP":-3,"ABCC9":-1,"CYP1B1":-1,"CDH2":0,"GAMT":-1},
{"col":36,"type":"low","LAMA2":-1,"CREB3L3":-1,"SELP":-1,"ABCC9":-1,"CYP1B1":-1,"CDH2":-1,"GAMT":-1},
{"col":37,"type":"low","LAMA2":-3,"CREB3L3":-1,"SELP":-2,"ABCC9":-1,"CYP1B1":-1,"CDH2":-1,"GAMT":-1},
{"col":38,"type":"low","LAMA2":-1,"CREB3L3":-1,"SELP":3,"ABCC9":-1,"CYP1B1":-1,"CDH2":-1,"GAMT":-1},
{"col":39,"type":"low","LAMA2":-1,"CREB3L3":-1,"SELP":-1,"ABCC9":-1,"CYP1B1":0,"CDH2":-1,"GAMT":-1},
{"col":40,"type":"low","LAMA2":0,"CREB3L3":-1,"SELP":-1,"ABCC9":-1,"CYP1B1":-1,"CDH2":-1,"GAMT":0},
{"col":41,"type":"low","LAMA2":-1,"CREB3L3":-1,"SELP":-1,"ABCC9":-1,"CYP1B1":-1,"CDH2":-1,"GAMT":-1},
{"col":42,"type":"low","LAMA2":-2,"CREB3L3":0,"SELP":2,"ABCC9":-1,"CYP1B1":-1,"CDH2":-1,"GAMT":-1},
{"col":43,"type":"low","LAMA2":-1,"CREB3L3":-1,"SELP":-1,"ABCC9":0,"CYP1B1":-1,"CDH2":-1,"GAMT":-1},
{"col":44,"type":"low","LAMA2":0,"CREB3L3":-1,"SELP":-1,"ABCC9":-1,"CYP1B1":-1,"CDH2":0,"GAMT":1},
{"col":45,"type":"low","LAMA2":-1,"CREB3L3":-1,"SELP":0,"ABCC9":-1,"CYP1B1":0,"CDH2":-1,"GAMT":-1},
{"col":46,"type":"low","LAMA2":-1,"CREB3L3":-1,"SELP":-1,"ABCC9":-1,"CYP1B1":-1,"CDH2":-1,"GAMT":-1},
{"col":47,"type":"low","LAMA2":2,"CREB3L3":3,"SELP":1,"ABCC9":-1,"CYP1B1":0,"CDH2":-1,"GAMT":-1},
{"col":48,"type":"low","LAMA2":-1,"CREB3L3":-1,"SELP":4,"ABCC9":0,"CYP1B1":-1,"CDH2":-1,"GAMT":0},
{"col":49,"type":"low","LAMA2":4,"CREB3L3":0,"SELP":0,"ABCC9":2,"CYP1B1":2,"CDH2":0,"GAMT":-1},
{"col":50,"type":"high","LAMA2":0,"CREB3L3":5,"SELP":2,"ABCC9":-1,"CYP1B1":-1,"CDH2":-1,"GAMT":2},
{"col":51,"type":"high","LAMA2":-1,"CREB3L3":-1,"SELP":6,"ABCC9":0,"CYP1B1":1,"CDH2":-1,"GAMT":-1},
{"col":52,"type":"high","LAMA2":3,"CREB3L3":1,"SELP":0,"ABCC9":1,"CYP1B1":0,"CDH2":2,"GAMT":-1},
{"col":53,"type":"high","LAMA2":1,"CREB3L3":-1,"SELP":3,"ABCC9":-1,"CYP1B1":3,"CDH2":-1,"GAMT":0},
{"col":54,"type":"high","LAMA2":-1,"CREB3L3":6,"SELP":1,"ABCC9":3,"CYP1B1":-1,"CDH2":0,"GAMT":3},
{"col":55,"type":"high","LAMA2":5,"CREB3L3":0,"SELP":5,"ABCC9":0,"CYP1B1":0,"CDH2":-1,"GAMT":-1},
{"col":56,"type":"high","LAMA2":0,"CREB3L3":-1,"SELP":-1,"ABCC9":-1,"CYP1B1":2,"CDH2":-1,"GAMT":1},
{"col":57,"type":"high","LAMA2":2,"CREB3L3":4,"SELP":2,"ABCC9":2,"CYP1B1":-1,"CDH2":1,"GAMT":-1},
{"col":58,"type":"high","LAMA2":-1,"CREB3L3":-1,"SELP":7,"ABCC9":0,"CYP1B1":4,"CDH2":-1,"GAMT":-1},
{"col":59,"type":"high","LAMA2":3,"CREB3L3":-1,"SELP":0,"ABCC9":-1,"CYP1B1":0,"CDH2":-1,"GAMT":4},
{"col":60,"type":"high","LAMA2":6,"CREB3L3":7,"SELP":3,"ABCC9":4,"CYP1B1":1,"CDH2":0,"GAMT":0},
{"col":61,"type":"high","LAMA2":0,"CREB3L3":0,"SELP":1,"ABCC9":1,"CYP1B1":-1,"CDH2":3,"GAMT":-1},
{"col":62,"type":"high","LAMA2":1,"CREB3L3":3,"SELP":8,"ABCC9":0,"CYP1B1":3,"CDH2":-1,"GAMT":2},
{"col":63,"type":"high","LAMA2":4,"CREB3L3":-1,"SELP":2,"ABCC9":3,"CYP1B1":0,"CDH2":-1,"GAMT":-1},
{"col":64,"type":"high","LAMA2":-1,"CREB3L3":5,"SELP":0,"ABCC9":-1,"CYP1B1":5,"CDH2":1,"GAMT":5},
{"col":65,"type":"high","LAMA2":2,"CREB3L3":0,"SELP":4,"ABCC9":2,"CYP1B1":1,"CDH2":-1,"GAMT":0},
{"col":66,"type":"high","LAMA2":5,"CREB3L3":-1,"SELP":6,"ABCC9":5,"CYP1B1":2,"CDH2":0,"GAMT":-1},
{"col":67,"type":"high","LAMA2":0,"CREB3L3":8,"SELP":1,"ABCC9":0,"CYP1B1":-1,"CDH2":-1,"GAMT":3},
{"col":68,"type":"high","LAMA2":3,"CREB3L3":2,"SELP":3,"ABCC9":1,"CYP1B1":4,"CDH2":2,"GAMT":-1},
{"col":69,"type":"high","LAMA2":7,"CREB3L3":-1,"SELP":0,"ABCC9":4,"CYP1B1":6,"CDH2":-1,"GAMT":1},
{"col":70,"type":"high","LAMA2":1,"CREB3L3":4,"SELP":5,"ABCC9":2,"CYP1B1":0,"CDH2":-1,"GAMT":6},
{"col":71,"type":"high","LAMA2":4,"CREB3L3":0,"SELP":9,"ABCC9":6,"CYP1B1":3,"CDH2":0,"GAMT":0},
{"col":72,"type":"high","LAMA2":0,"CREB3L3":6,"SELP":2,"ABCC9":0,"CYP1B1":5,"CDH2":4,"GAMT":2},
{"col":73,"type":"high","LAMA2":6,"CREB3L3":-1,"SELP":4,"ABCC9":3,"CYP1B1":2,"CDH2":-1,"GAMT":-1},
{"col":74,"type":"high","LAMA2":2,"CREB3L3":1,"SELP":1,"ABCC9":5,"CYP1B1":7,"CDH2":1,"GAMT":4},
{"col":75,"type":"high","LAMA2":5,"CREB3L3":9,"SELP":7,"ABCC9":1,"CYP1B1":4,"CDH2":-1,"GAMT":7},
{"col":76,"type":"high","LAMA2":8,"CREB3L3":0,"SELP":3,"ABCC9":7,"CYP1B1":6,"CDH2":0,"GAMT":1},
{"col":77,"type":"high","LAMA2":3,"CREB3L3":3,"SELP":6,"ABCC9":4,"CYP1B1":8,"CDH2":2,"GAMT":0},
{"col":78,"type":"high","LAMA2":6,"CREB3L3":-1,"SELP":0,"ABCC9":2,"CYP1B1":3,"CDH2":-1,"GAMT":3},
{"col":79,"type":"high","LAMA2":0,"CREB3L3":7,"SELP":8,"ABCC9":8,"CYP1B1":9,"CDH2":5,"GAMT":5},
{"col":80,"type":"high","LAMA2":9,"CREB3L3":0,"SELP":5,"ABCC9":6,"CYP1B1":5,"CDH2":0,"GAMT":-1},
{"col":81,"type":"high","LAMA2":4,"CREB3L3":5,"SELP":2,"ABCC9":3,"CYP1B1":7,"CDH2":1,"GAMT":8},
{"col":82,"type":"high","LAMA2":7,"CREB3L3":2,"SELP":10,"ABCC9":9,"CYP1B1":10,"CDH2":-1,"GAMT":2},
{"col":83,"type":"high","LAMA2":2,"CREB3L3":10,"SELP":4,"ABCC9":5,"CYP1B1":6,"CDH2":3,"GAMT":6},
{"col":84,"type":"high","LAMA2":10,"CREB3L3":0,"SELP":7,"ABCC9":11,"CYP1B1":12,"CDH2":6,"GAMT":1},
{"col":85,"type":"high","LAMA2":12,"CREB3L3":6,"SELP":11,"ABCC9":7,"CYP1B1":9,"CDH2":0,"GAMT":9},
{"col":86,"type":"high","LAMA2":6,"CREB3L3":4,"SELP":13,"ABCC9":13,"CYP1B1":11,"CDH2":2,"GAMT":4},
{"col":87,"type":"high","LAMA2":14,"CREB3L3":1,"SELP":9,"ABCC9":10,"CYP1B1":13,"CDH2":8,"GAMT":11},
{"col":88,"type":"high","LAMA2":9,"CREB3L3":8,"SELP":15,"ABCC9":8,"CYP1B1":8,"CDH2":1,"GAMT":7},
{"col":89,"type":"high","LAMA2":11,"CREB3L3":3,"SELP":6,"ABCC9":14,"CYP1B1":14,"CDH2":4,"GAMT":13},
{"col":90,"type":"high","LAMA2":15,"CREB3L3":9,"SELP":12,"ABCC9":12,"CYP1B1":10,"CDH2":0,"GAMT":10},
{"col":91,"type":"high","LAMA2":8,"CREB3L3":2,"SELP":8,"ABCC9":9,"CYP1B1":12,"CDH2":2,"GAMT":12},
{"col":92,"type":"high","LAMA2":13,"CREB3L3":-1,"SELP":10,"ABCC9":6,"CYP1B1":9,"CDH2":9,"GAMT":14},
{"col":93,"type":"high","LAMA2":10,"CREB3L3":12,"SELP":14,"ABCC9":11,"CYP1B1":6,"CDH2":12,"GAMT":15}]
},
"vconcat":[
{"hconcat":[
 {"vconcat":[
  {"width":1,"height":101,"data":{"values":[]},"mark":"point"},
  {"width":211,"height":138,"view":{"stroke":"#333","strokeWidth":1},
   "layer":[
    {"data":{"name":"cv"},"mark":{"type":"rule","color":"#9a9a9a","strokeWidth":0.8},
     "encoding":{"x":{"field":"loglam","type":"quantitative","scale":{"domain":[-7.03,-2.07],"nice":false,"zero":false},"axis":{"values":[-7,-6,-5,-4,-3],"tickCount":20,"format":"d","title":"Log (λ)","domain":false,"titlePadding":9,"labelFontSize":10.5}},
      "y":{"field":"lo","type":"quantitative","scale":{"domain":[11.415,12.206],"nice":false,"zero":false},"axis":{"values":[11.6,11.8,12.0,12.2],"tickCount":20,"format":".1f","title":"Partial Likelihood Deviance","domain":false,"titlePadding":2,"labelFontSize":10.5}},
      "y2":{"field":"hi"}}},
    {"data":{"name":"cv"},"mark":{"type":"line","color":"#9a9a9a","strokeWidth":0.8},"encoding":{"x":{"field":"loglam","type":"quantitative"},"y":{"field":"hi","type":"quantitative"}}},
    {"data":{"name":"cv"},"mark":{"type":"line","color":"#9a9a9a","strokeWidth":0.8},"encoding":{"x":{"field":"loglam","type":"quantitative"},"y":{"field":"lo","type":"quantitative"}}},
    {"data":{"name":"cv"},"mark":{"type":"point","filled":true,"color":"#1C87B0","size":10,"opacity":1},"encoding":{"x":{"field":"loglam","type":"quantitative"},"y":{"field":"mean","type":"quantitative"}}},
    {"data":{"values":[{}]},"mark":{"type":"rule","strokeDash":[4,3],"color":"#111","strokeWidth":1},"encoding":{"x":{"datum":-3.45}}},
    {"data":{"values":[{}]},"mark":{"type":"rule","strokeDash":[4,3],"color":"#111","strokeWidth":1},"encoding":{"x":{"datum":-2.2}}},
    {"data":{"name":"nz"},"mark":{"type":"text","fontSize":9.5,"baseline":"middle","dy":-6,"color":"#222"},"encoding":{"x":{"field":"loglam","type":"quantitative"},"y":{"datum":12.206},"text":{"field":"n"}}}
   ]},
  {"width":1,"height":52,"data":{"values":[]},"mark":"point"},
  {"width":168,"height":2,"data":{"values":[{}]},"mark":{"type":"text","text":"(a)","fontSize":10.5,"baseline":"middle","color":"#222"}},
  {"width":1,"height":27,"data":{"values":[]},"mark":"point"},
  {"width":201,"height":153,
   "layer":[
    {"data":{"name":"coef"},"mark":{"type":"line","strokeWidth":1.1},
     "encoding":{"x":{"field":"lam","type":"quantitative","scale":{"domain":[-5.51,-2.0],"nice":false,"zero":false,"range":[31,201]},"axis":{"values":[-5.5,-5.0,-4.5,-4.0,-3.5,-3.0,-2.5,-2.0],"tickCount":20,"format":".1f","title":"Log Lambda","domain":false,"titlePadding":7,"labelFontSize":9.5}},
      "y":{"field":"coef","type":"quantitative","scale":{"domain":[-0.61,1.32],"nice":false,"zero":false},"axis":{"values":[-0.5,0,0.5,1.0],"tickCount":20,"format":".1f","title":"Coefficients","domain":false,"titlePadding":6,"labelFontSize":10.5,"offset":-31}},
      "color":{"field":"var","type":"nominal","legend":null,"scale":{"domain":["2","4","6","7","8","9","10","11","12","13","15","17","18","19","21","5","22","14","3","24","1","20","23","16"],"range":["#E0435B","#3B72CC","#B83DB0","#46A83B","#222222","#B83DB0","#3BB6D3","#E0435B","#46A83B","#B83DB0","#222222","#3BB6D3","#46A83B","#B83DB0","#E0435B","#3BB6D3","#E0435B","#E0435B","#46A83B","#3BB6D3","#222222","#222222","#3B72CC","#3B72CC"]}}}},
    {"data":{"name":"coeflab"},"mark":{"type":"text","fontSize":4,"color":"#555","align":"center","baseline":"middle"},
     "encoding":{"x":{"datum":-5.465},"y":{"field":"coef","type":"quantitative"},"text":{"field":"var"}}},
    {"data":{"name":"ctop"},"mark":{"type":"text","fontSize":10.5,"color":"#222","baseline":"middle","dy":-9},
     "encoding":{"x":{"field":"lam","type":"quantitative"},"y":{"datum":1.32},"text":{"field":"n"}}},
    {"data":{"name":"ctop"},"mark":{"type":"tick","orient":"vertical","size":3,"color":"#222","thickness":1,"yOffset":-1.5},
     "encoding":{"x":{"field":"lam","type":"quantitative"},"y":{"datum":1.32}}},
    {"data":{"values":[{}]},"mark":{"type":"rect","fill":"transparent","stroke":"#222","strokeWidth":1},
     "encoding":{"x":{"datum":-5.51},"x2":{"datum":-2.0},"y":{"datum":-0.61},"y2":{"datum":1.32}}}
   ]},
  {"width":1,"height":48,"data":{"values":[]},"mark":"point"},
  {"width":192,"height":176,
   "layer":[
    {"data":{"name":"roc"},"transform":[{"filter":"datum.curve == '1–Year (AUC = 0.626)'"}],"mark":{"type":"area","interpolate":"step-after","opacity":0.25,"orient":"vertical","color":"#2C9FD9"},
     "encoding":{"x":{"field":"fpr","type":"quantitative","scale":{"domain":[-0.012,1.008],"nice":false,"zero":false,"range":[25,192]},"axis":{"values":[0,0.1,0.2,0.3,0.4,0.5,0.6,0.7,0.8,0.9,1.0],"tickCount":30,"labelExpr":"abs(datum.value * 5 - round(datum.value * 5)) < 0.01 ? format(datum.value, '.1f') : ''","title":"1–Specificity (FPR)","grid":true,"gridDash":[1,3],"gridColor":"#333","gridWidth":1,"domain":false,"zindex":1,"titlePadding":6,"labelFontSize":10.5}},
      "y":{"field":"tpr","type":"quantitative","stack":null,"scale":{"domain":[-0.008,1.003],"nice":false,"zero":false},"axis":{"values":[0,0.1,0.2,0.3,0.4,0.5,0.6,0.7,0.8,0.9,1.0],"tickCount":30,"labelExpr":"abs(datum.value * 5 - round(datum.value * 5)) < 0.01 ? format(datum.value, '.1f') : ''","title":"Sensitivity (TPR)","grid":true,"gridDash":[1,3],"gridColor":"#333","gridWidth":1,"domain":false,"zindex":1,"titlePadding":6,"labelFontSize":10.5,"offset":-25}}}},
    {"data":{"name":"roc"},"transform":[{"filter":"datum.curve == '3–Year (AUC = 0.638)'"}],"mark":{"type":"area","interpolate":"step-after","opacity":0.25,"orient":"vertical","color":"#E8231E"},
     "encoding":{"x":{"field":"fpr","type":"quantitative"},"y":{"field":"tpr","type":"quantitative","stack":null}}},
    {"data":{"name":"roc"},"transform":[{"filter":"datum.curve == '5–Year (AUC = 0.623)'"}],"mark":{"type":"area","interpolate":"step-after","opacity":0.25,"orient":"vertical","color":"#3A7A20"},
     "encoding":{"x":{"field":"fpr","type":"quantitative"},"y":{"field":"tpr","type":"quantitative","stack":null}}},
    {"data":{"values":[{"x":0,"y":0,"x2":1,"y2":1}]},"mark":{"type":"rule","color":"#8a8a8a","strokeWidth":1},
     "encoding":{"x":{"field":"x","type":"quantitative"},"y":{"field":"y","type":"quantitative"},"x2":{"field":"x2"},"y2":{"field":"y2"}}},
    {"data":{"name":"roc"},"mark":{"type":"line","interpolate":"step-after","strokeWidth":1.3},
     "encoding":{"x":{"field":"fpr","type":"quantitative"},"y":{"field":"tpr","type":"quantitative"},
      "color":{"field":"curve","type":"nominal","scale":{"domain":["1–Year (AUC = 0.626)","3–Year (AUC = 0.638)","5–Year (AUC = 0.623)"],"range":["#2C9FD9","#E8231E","#197A56"]},"legend":{"orient":"none","legendX":26,"legendY":225,"title":null,"symbolType":"stroke","symbolSize":300,"symbolStrokeWidth":1.3,"labelFontSize":10.5,"rowPadding":0}}}},
    {"data":{"values":[{}]},"mark":{"type":"rect","fill":"transparent","stroke":"#666","strokeWidth":1},
     "encoding":{"x":{"datum":-0.012},"x2":{"datum":1.008},"y":{"datum":-0.008},"y2":{"datum":1.003}}}
   ]},
  {"width":1,"height":108,"data":{"values":[]},"mark":"point"},
  {"width":194,"height":2,"data":{"values":[{}]},"mark":{"type":"text","text":"(c)","fontSize":10.5,"baseline":"middle","color":"#222"}}
 ],"spacing":0,"bounds":"flush","resolve":{"scale":{"color":"independent","stroke":"independent","fill":"independent"}}},
 {"vconcat":[
  {"width":235,"height":110,
   "layer":[
    {"data":{"name":"km"},"transform":[{"filter":"datum.risk == 'High'"}],"mark":{"type":"area","interpolate":"step-after","color":"#F3805F","opacity":1,"clip":true},
     "encoding":{"x":{"field":"t","type":"quantitative","scale":{"domain":[-0.5,10.47],"nice":false,"zero":false,"range":[21,235]},"axis":{"values":[0,1,2,3,4,5,6,7,8,9,10],"tickCount":20,"format":"d","title":"Time (Years)","titlePadding":8,"domainColor":"#111","tickColor":"#111","labelPadding":3}},
      "y":{"field":"lo","type":"quantitative","scale":{"domain":[-0.034,0.903],"nice":false,"zero":false},"axis":{"values":[0,0.25,0.5,0.75],"tickCount":20,"format":".2f","title":"Survival probability","domainColor":"#111","tickColor":"#111","titlePadding":5,"labelPadding":3,"offset":-21}},
      "y2":{"field":"hi"}}},
    {"data":{"name":"km"},"transform":[{"filter":"datum.risk == 'Low'"}],"mark":{"type":"area","interpolate":"step-after","color":"#23238C","opacity":0.6,"clip":true},
     "encoding":{"x":{"field":"t","type":"quantitative"},"y":{"field":"lo","type":"quantitative"},"y2":{"field":"hi"}}},
    {"data":{"name":"km"},"mark":{"type":"line","interpolate":"step-after","strokeWidth":1.2,"clip":true},
     "encoding":{"x":{"field":"t","type":"quantitative"},"y":{"field":"s","type":"quantitative"},"color":{"field":"risk","type":"nominal","scale":{"domain":["High","Low"],"range":["#E8261F","#1E2878"]}}}},
    {"data":{"name":"cens"},"mark":{"type":"point","shape":"cross","filled":true,"size":20,"opacity":1,"clip":true},
     "encoding":{"x":{"field":"t","type":"quantitative"},"y":{"field":"s","type":"quantitative"},"color":{"field":"risk","type":"nominal","scale":{"domain":["High","Low"],"range":["#E8261F","#1E2878"]},"legend":{"orient":"none","legendX":21,"legendY":234,"title":"Risk","symbolType":"square","symbolSize":30,"symbolStrokeWidth":0,"labelFontSize":10.5,"titleFontSize":10.5,"rowPadding":4,"titlePadding":4}}}},
    {"data":{"values":[{}]},"mark":{"type":"text","text":"p<0.001","align":"left","baseline":"middle","fontSize":10.5,"color":"#222"},"encoding":{"x":{"datum":0.15},"y":{"datum":0.11}}}
   ]},
  {"width":1,"height":44,"data":{"values":[]},"mark":"point"},
  {"width":235,"height":28,"data":{"name":"risktab"},"mark":{"type":"text","fontSize":10.5,"baseline":"middle"},
   "encoding":{"x":{"field":"t","type":"quantitative","scale":{"domain":[-0.5,10.47],"nice":false,"zero":false,"range":[21,235]},"axis":{"values":[0,1,2,3,4,5,6,7,8,9,10],"tickCount":20,"format":"d","title":"Time (Years)","titlePadding":8,"domainColor":"#111","tickColor":"#111","labelPadding":3}},
    "y":{"field":"risk","type":"nominal","scale":{"type":"point","domain":["High risk","Low risk"],"padding":0.67},"axis":{"title":null,"ticks":false,"labelPadding":4,"labelFontSize":10.5,"domainColor":"#111","offset":-21,"labelColor":{"condition":{"test":"datum.value == 'High risk'","value":"#E8261F"},"value":"#2C2C8C"}}},
    "text":{"field":"n"},
    "color":{"field":"risk","type":"nominal","legend":null,"scale":{"domain":["High risk","Low risk"],"range":["#E8261F","#2C2C8C"]}}}},
  {"width":1,"height":108,"data":{"values":[]},"mark":"point"},
  {"width":184,"height":2,"data":{"values":[{}]},"mark":{"type":"text","text":"(b)","fontSize":10.5,"baseline":"middle","color":"#222"}},
  {"width":1,"height":195,"data":{"values":[]},"mark":"point"},
  {"width":208,"height":78,"view":{"stroke":"#666","strokeWidth":1},
   "layer":[
    {"data":{"name":"riskscore"},"mark":{"type":"point","filled":true,"size":12,"opacity":1},
     "encoding":{"x":{"field":"id","type":"quantitative","scale":{"domain":[-14,386],"nice":false,"zero":false},"axis":{"values":[0,100,200,300],"tickCount":20,"format":"d","title":null,"domain":false,"labelFontSize":10.5}},
      "y":{"field":"score","type":"quantitative","scale":{"domain":[-0.1,3.12],"nice":false,"zero":false},"axis":{"values":[0,0.5,1,1.5,2,2.5,3],"tickCount":20,"labelExpr":"datum.value % 1 == 0 ? format(datum.value, '.1f') : ''","title":"Risk score","domain":false,"titlePadding":5,"labelFontSize":10.5}},
      "color":{"field":"group","type":"nominal","scale":{"domain":["High risk","Low risk"],"range":["#E41A1C","#23992A"]},"legend":{"orient":"none","legendX":-3,"legendY":110,"title":null,"symbolType":"circle","symbolSize":20,"labelFontSize":10.5,"rowPadding":4}}}},
    {"data":{"values":[{}]},"mark":{"type":"rule","strokeDash":[1,2],"color":"#555"},"encoding":{"x":{"datum":185.5}}},
    {"data":{"values":[{}]},"mark":{"type":"rule","strokeDash":[1,2],"color":"#555"},"encoding":{"y":{"datum":0.2}}}
   ]},
  {"width":1,"height":72,"data":{"values":[]},"mark":"point"},
  {"width":208,"height":76,"view":{"stroke":"#666","strokeWidth":1},
   "layer":[
    {"data":{"name":"surv"},"mark":{"type":"point","filled":true,"size":14,"opacity":1},
     "encoding":{"x":{"field":"id","type":"quantitative","scale":{"domain":[-19,389.6],"nice":false,"zero":false},"axis":{"values":[0,100,200,300],"tickCount":20,"format":"d","title":"Patients (increasing risk socre)","domain":false,"labelFontSize":10.5,"titlePadding":7}},
      "y":{"field":"years","type":"quantitative","scale":{"domain":[-0.48,10.48],"nice":false,"zero":false},"axis":{"values":[0,2,4,6,8,10],"tickCount":20,"format":"d","title":["Survival time","(years)"],"domain":false,"titlePadding":4,"labelFontSize":10.5,"titleLineHeight":10}},
      "color":{"field":"status","type":"nominal","scale":{"domain":["Dead","Alive"],"range":["#E41A1C","#23992A"]},"legend":{"orient":"none","legendX":-1,"legendY":128,"title":null,"symbolType":"circle","symbolSize":20,"labelFontSize":10.5,"rowPadding":4}}}},
    {"data":{"values":[{}]},"mark":{"type":"rule","strokeDash":[1,2],"color":"#555"},"encoding":{"x":{"datum":185.5}}}
   ]},
  {"width":1,"height":91,"data":{"values":[]},"mark":"point"},
  {"width":158,"height":2,"data":{"values":[{}]},"mark":{"type":"text","text":"(d)","fontSize":10.5,"baseline":"middle","color":"#222"}}
 ],"spacing":0,"bounds":"flush","resolve":{"scale":{"color":"independent","stroke":"independent","fill":"independent"}}}
],"spacing":19,"resolve":{"scale":{"color":"independent","stroke":"independent","fill":"independent"}}},
{"vconcat":[
  {"width":300,"height":5,"data":{"name":"heat"},"mark":"rect",
   "encoding":{"x":{"field":"col","type":"ordinal","axis":null,"scale":{"paddingInner":0,"paddingOuter":0,"range":[39,300]}},
    "y":{"datum":"type","type":"nominal","scale":{"paddingInner":0,"paddingOuter":0},"axis":{"orient":"right","title":null,"domain":false,"ticks":false,"labelPadding":3,"labelFontSize":10.5}},
    "color":{"field":"type","type":"nominal","scale":{"domain":["high","low"],"range":["#1C74CE","#E8635A"]},"legend":{"orient":"none","legendX":376,"legendY":3,"title":"type","symbolType":"square","symbolSize":60,"labelFontSize":10.5,"titleFontSize":10.5,"rowPadding":0,"titlePadding":2,"symbolStrokeWidth":0}}}},
  {"width":1,"height":2,"data":{"values":[]},"mark":"point"},
  {"width":300,"height":183,"data":{"name":"heat"},
   "transform":[{"fold":["LAMA2","CREB3L3","SELP","ABCC9","CYP1B1","CDH2","GAMT"],"as":["gene","value"]}],
   "mark":"rect",
   "encoding":{"x":{"field":"col","type":"ordinal","axis":null,"scale":{"paddingInner":0,"paddingOuter":0,"range":[39,300]}},
    "y":{"field":"gene","type":"nominal","sort":["LAMA2","CREB3L3","SELP","ABCC9","CYP1B1","CDH2","GAMT"],"scale":{"paddingInner":0,"paddingOuter":0},"axis":{"orient":"right","title":null,"domain":false,"ticks":false,"labelPadding":2,"labelFontSize":10.5}},
    "color":{"field":"value","type":"quantitative","scale":{"domain":[-15,-10,-5,-3,-1,0,1,3,5,8,11,15],"range":["#005C00","#006A00","#3A9A45","#9BD0A4","#D2EBDE","#EEEEEE","#F6E4E4","#F3C4C4","#EE9A9A","#E66060","#DD2A2A","#D20000"]},"legend":{"orient":"none","legendX":350,"legendY":-1,"title":null,"gradientLength":105,"gradientThickness":7,"values":[-15,-10,-5,0,5,10,15],"labelFontSize":10.5,"direction":"vertical"}}}},
  {"width":1,"height":12.5,"data":{"values":[]},"mark":"point"},
  {"width":440,"height":2,"data":{"values":[{}]},"mark":{"type":"text","text":"(e)","fontSize":10.5,"baseline":"middle","color":"#222"}}
 ],"spacing":0,"bounds":"flush","resolve":{"scale":{"color":"independent","stroke":"independent"}}}
],
"config":{
 "view":{"stroke":null},
 "font":"Liberation Serif",
 "axis":{"labelFont":"Liberation Serif","titleFont":"Liberation Serif","labelFontSize":10,"titleFontSize":10.5,"titleFontWeight":"normal","labelColor":"#222","titleColor":"#222","tickColor":"#333","domainColor":"#333","tickSize":3,"labelPadding":2,"grid":false,"labelOverlap":false},
 "legend":{"labelFont":"Liberation Serif","titleFont":"Liberation Serif","labelFontSize":10.5,"titleFontSize":10.5,"titleFontWeight":"normal","labelColor":"#222","titleColor":"#222"},
 "text":{"font":"Liberation Serif"}
}
}
